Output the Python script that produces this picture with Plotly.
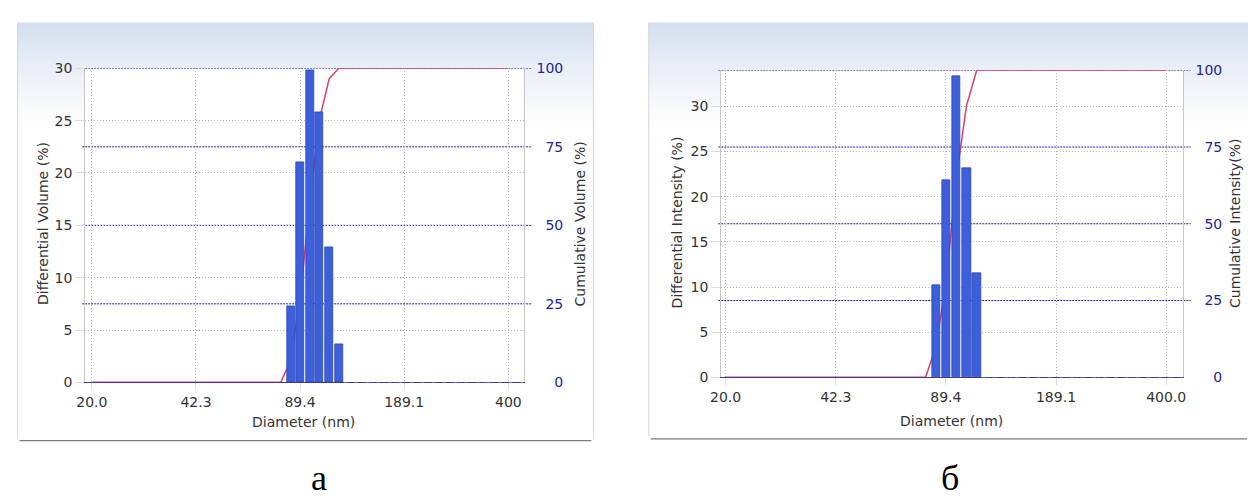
import numpy as np
import plotly.graph_objects as go

# ---------------- data ----------------
tick_diam = [20.0, 42.3, 89.4, 189.1, 400.0]
tick_text_a = ["20.0", "42.3", "89.4", "189.1", "400"]
tick_text_b = ["20.0", "42.3", "89.4", "189.1", "400.0"]

# panel a: volume distribution
bin_diam_a = [83.7, 89.8, 96.1, 102.9, 110.3, 118.1]
diff_vol_a = [7.3, 21.0, 29.8, 25.8, 12.9, 3.6]
cum_diam_a = [20.0, 77.9, 83.7, 89.8, 96.1, 102.9, 110.3, 118.1, 400.0]
cum_vol_a = [0, 0, 7.3, 28.3, 58.1, 83.9, 96.7, 100, 100]

# panel b: intensity distribution
bin_diam_b = [83.7, 89.8, 96.1, 102.9, 110.3]
diff_int_b = [10.2, 21.8, 33.3, 23.2, 11.5]
cum_diam_b = [20.0, 77.9, 83.7, 89.8, 96.1, 102.9, 110.3, 400.0]
cum_int_b = [0, 0, 10.2, 32.0, 65.3, 88.5, 100, 100]

left_ticks_a = [0, 5, 10, 15, 20, 25, 30]
left_ticks_b = [0, 5, 10, 15, 20, 25, 30]
right_ticks = [0, 25, 50, 75, 100]
right_text = ["\u2007\u20070", "\u200725", "\u200750", "\u200775", "100"]

# ---------------- geometry helpers ----------------
W, H = 1248, 501
def px(x):
    return x / W
def py(y):
    return 1 - y / H

FONT = "DejaVu Sans"
BAR_FILL = "#3d5fdb"
BAR_EDGE = "#3046b0"
RED = "#dc4066"
NAVY = "#24249a"
GRID = "#b8b8b8"
TXT = "#333333"
BAR_W = 0.0250  # bar width in log10(nm) units

# panel plot areas (pixels)
A = dict(x0=75, x1=518.5, y0=62.3, y1=386.7, r0=1.2803, r1=2.6499, ymax=30)
B = dict(x0=718.3, x1=1185, y0=64.3, y1=381.5, r0=1.2882, r1=2.6508, ymax=34.0)

fig = go.Figure()

# cumulative lines on base axes (drawn first), bars on overlaying axes (drawn on top)
fig.add_trace(go.Scatter(x=np.log10(cum_diam_a), y=cum_vol_a, xaxis="x", yaxis="y",
                         mode="lines", line=dict(color=RED, width=1.5), showlegend=False))
fig.add_trace(go.Bar(x=np.log10(bin_diam_a), y=diff_vol_a, xaxis="x", yaxis="y2",
                     width=BAR_W, marker=dict(color=BAR_FILL, line=dict(color=BAR_EDGE, width=0.8)),
                     showlegend=False))
fig.add_trace(go.Scatter(x=np.log10(cum_diam_b), y=cum_int_b, xaxis="x2", yaxis="y3",
                         mode="lines", line=dict(color=RED, width=1.5), showlegend=False))
fig.add_trace(go.Bar(x=np.log10(bin_diam_b), y=diff_int_b, xaxis="x2", yaxis="y4",
                     width=BAR_W, marker=dict(color=BAR_FILL, line=dict(color=BAR_EDGE, width=0.8)),
                     showlegend=False))

tfont = dict(family=FONT, size=14, color=TXT)
rfont = dict(family=FONT, size=14, color=NAVY)
DOT = "1px,2px"

def xaxis(P, text, anchor):
    return dict(domain=[px(P["x0"]), px(P["x1"])], range=[P["r0"], P["r1"]], anchor=anchor,
                tickvals=list(np.log10(tick_diam)), ticktext=text, tickfont=tfont,
                showgrid=True, gridcolor=GRID, griddash=DOT, gridwidth=1,
                ticks="outside", ticklen=7, tickcolor="#dddddd",
                showline=True, linecolor="#3c3c8c", linewidth=1,
                zeroline=False, fixedrange=True)

def ycum(P, anchor):
    return dict(domain=[py(P["y1"]), py(P["y0"])], range=[0, 100], anchor=anchor, side="right",
                tickvals=right_ticks, ticktext=right_text, tickfont=rfont,
                showgrid=False, ticks="", ticklabelstandoff=9,
                showline=True, linecolor="#c8c8c8", linewidth=1, zeroline=False, fixedrange=True)

def ydiff(P, over, anchor, ticks):
    return dict(overlaying=over, side="left", anchor=anchor, range=[0, P["ymax"]],
                tickvals=ticks, tickfont=tfont, showgrid=True, gridcolor=GRID, griddash=DOT,
                ticks="outside", ticklen=9, tickcolor="#dddddd",
                showline=True, linecolor="#c8c8c8", linewidth=1, zeroline=False, fixedrange=True)

shapes = []
# panel backgrounds with a top gradient
def panel(x0, x1, y0, y1):
    top = np.array([212, 223, 240])
    n = 40
    g0, g1 = y0, y0 + 115
    for i in range(n):
        t = i / (n - 1)
        f = (1 - t) ** 1.3
        c = (255 - (255 - top) * f).astype(int)
        ya = g0 + (g1 - g0) * i / n
        yb = g0 + (g1 - g0) * (i + 1) / n + 0.6
        shapes.append(dict(type="rect", xref="paper", yref="paper", layer="below",
                           x0=px(x0), x1=px(x1), y0=py(yb), y1=py(ya),
                           fillcolor=f"rgb({c[0]},{c[1]},{c[2]})", line=dict(width=0)))
    shapes.append(dict(type="line", xref="paper", yref="paper", layer="below",
                       x0=px(x0), x1=px(x0), y0=py(y0), y1=py(y1 - 3), line=dict(color="#d6d6d6", width=1)))
    shapes.append(dict(type="line", xref="paper", yref="paper", layer="below",
                       x0=px(x1), x1=px(x1), y0=py(y0), y1=py(y1 - 3), line=dict(color="#d6d6d6", width=1)))
    shapes.append(dict(type="line", xref="paper", yref="paper", layer="below",
                       x0=px(x0 + 2), x1=px(x1 - 2), y0=py(y1), y1=py(y1), line=dict(color="#7a7a7a", width=1.2)))

panel(6.7, 589, 15, 447)
panel(645, 1252, 15, 445)
for P, yref, xref, bins in ((A, "y", "x", bin_diam_a), (B, "y3", "x2", bin_diam_b)):
    shapes.append(dict(type="rect", xref="paper", yref="paper", layer="below",
                       x0=px(P["x0"]), x1=px(P["x1"]), y0=py(P["y1"]), y1=py(P["y0"]),
                       fillcolor="white", line=dict(width=0)))
    # navy dotted cumulative-axis grid lines, extended past the plot edge like the original
    for v in right_ticks[1:]:
        shapes.append(dict(type="line", xref="paper", yref=yref, layer="between",
                           x0=px(P["x0"] - 3), x1=px(P["x1"] + 8), y0=v, y1=v,
                           line=dict(color=NAVY, width=1, dash="2px,1px")))
    # the zero baseline right of the last bar is dashed in the original
    shapes.append(dict(type="line", xref=xref, yref=yref, layer="above",
                       x0=np.log10(bins[-1]) + BAR_W / 2 + 0.004, x1=P["r1"], y0=0, y1=0,
                       line=dict(color="white", width=1.5, dash="3px,8px")))

afont = dict(family=FONT, size=14, color=TXT)
def ann(text, x, y, angle=0, font=afont):
    return dict(text=text, x=px(x), y=py(y), xref="paper", yref="paper", showarrow=False,
                textangle=angle, font=font, xanchor="center", yanchor="middle")

serif = dict(family="Liberation Serif", size=36, color="#000000")
annotations = [
    ann("Diameter (nm)", 296, 428),
    ann("Differential Volume (%)", 32.5, 223, -90),
    ann("Cumulative Volume (%)", 575, 223, -90),
    ann("Diameter (nm)", 951, 427),
    ann("Differential Intensity (%)", 673, 221, -90),
    ann("Cumulative Intensity(%)", 1238, 222, -90),
    ann("а", 311.7, 486, 0, serif),
    ann("б", 950, 486, 0, serif),
]

fig.update_layout(
    width=W, height=H, margin=dict(l=0, r=0, t=0, b=0, pad=0),
    paper_bgcolor="white", plot_bgcolor="rgba(0,0,0,0)",
    bargap=0, showlegend=False,
    xaxis=xaxis(A, tick_text_a, "y"),
    yaxis=ycum(A, "x"),
    yaxis2=ydiff(A, "y", "x", left_ticks_a),
    xaxis2=xaxis(B, tick_text_b, "y3"),
    yaxis3=ycum(B, "x2"),
    yaxis4=ydiff(B, "y3", "x2", left_ticks_b),
    shapes=shapes, annotations=annotations,
)

fig.write_html("out.html")
